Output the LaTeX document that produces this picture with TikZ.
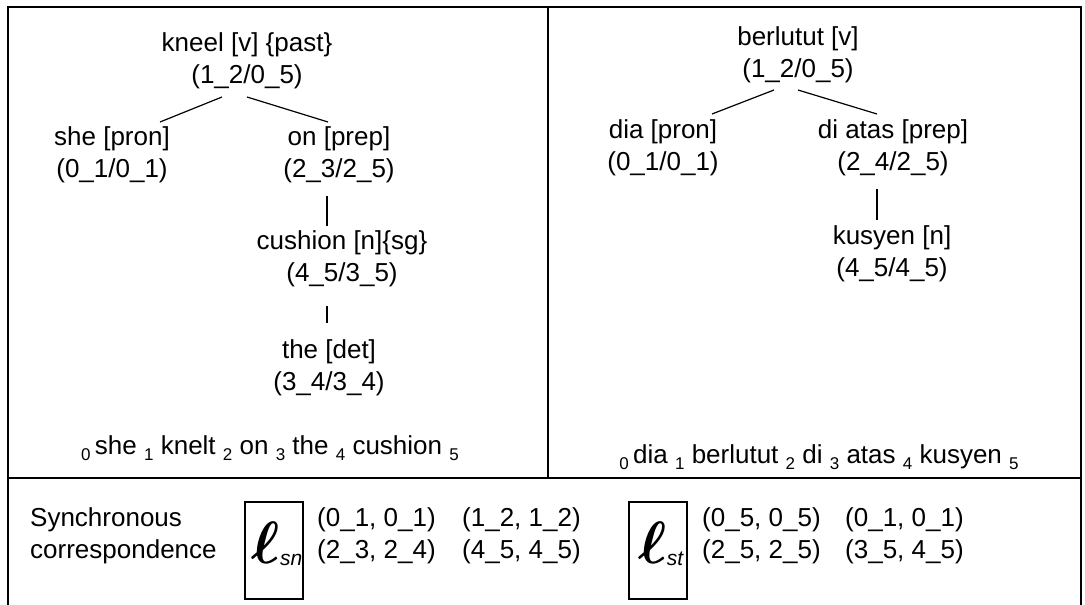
\documentclass[tikz,border=0pt]{standalone}
\usepackage{fontspec}
\setmainfont{Liberation Sans}
\usepackage{bm}
\usetikzlibrary{calc}
\newcommand\sbn[1]{\raisebox{-0.22em}{\fontsize{17}{17}\selectfont #1}}
\begin{document}
\begin{tikzpicture}[x=1pt,y=-1pt,
  every node/.style={inner sep=0pt,font=\fontsize{26}{32}\selectfont},
  tnode/.style={align=center},
  pair/.style={anchor=west},
  lbox/.style={draw,line width=1.1pt,minimum width=58pt,minimum height=97pt},
  edge/.style={line width=1.2pt},
  frame/.style={line width=1.2pt}]
\useasboundingbox (0,0) rectangle (1085,605);
% frame
\draw[frame] (8,605) -- (8,7) -- (1081,7) -- (1081,605);
\coordinate (divtop) at (548,7);
\coordinate (divbot) at (548,478);
\coordinate (hl) at (8,478);
\coordinate (hr) at (1081,478);
\draw[frame] (divtop) -- (divbot);
\draw[frame] (hl) -- (hr);
% left tree
\node[tnode] (kneel) at (247,61) {kneel [v] \{past\}\\(1\_2/0\_5)};
\node[tnode] (she) at (112,155) {she [pron]\\(0\_1/0\_1)};
\node[tnode] (on) at (339,155) {on [prep]\\(2\_3/2\_5)};
\node[tnode] (cushion) at (342,259) {cushion [n]\{sg\}\\(4\_5/3\_5)};
\node[tnode] (the) at (329,368) {the [det]\\(3\_4/3\_4)};
\node (sentL) at (270,448) {\sbn{0}\,she \sbn{1} knelt \sbn{2} on \sbn{3} the \sbn{4} cushion \sbn{5}};
\draw[edge] ($(kneel)+(-25,36)$) -- ($(she)+(48,-33)$);
\draw[edge] ($(kneel)+(0,36)$) -- ($(on)+(-11,-33)$);
\draw[edge] ($(on)+(-12,41)$) -- ($(cushion)+(-15,-33)$);
\draw[edge] ($(cushion)+(-15,47)$) -- ($(the)+(-2,-45)$);
% right tree
\node[tnode] (berlutut) at (798,55) {berlutut [v]\\(1\_2/0\_5)};
\node[tnode] (dia) at (663,148) {dia [pron]\\(0\_1/0\_1)};
\node[tnode] (diatas) at (893,148) {di atas [prep]\\(2\_4/2\_5)};
\node[tnode] (kusyen) at (892,254) {kusyen [n]\\(4\_5/4\_5)};
\node (sentR) at (819,457) {\sbn{0}\,dia \sbn{1} berlutut \sbn{2} di \sbn{3} atas \sbn{4} kusyen \sbn{5}};
\draw[edge] ($(berlutut)+(-24,35)$) -- ($(dia)+(49,-34)$);
\draw[edge] ($(berlutut)+(0,35)$) -- ($(diatas)+(-16,-34)$);
\draw[edge] ($(diatas)+(-16,41)$) -- ($(kusyen)+(-15,-34)$);
% bottom
\node[anchor=west,align=left] (sync) at (30,536) {Synchronous\\correspondence};
\node[lbox] (lsn) at (274,550.5) {};
\node (lsntxt) at ($(lsn)+(3,-7)$) {\scalebox{2.4}{$\bm{\ell}$}\raisebox{-2pt}{\fontsize{21}{21}\selectfont\itshape sn}};
\node[pair] (p1) at (317,520) {(0\_1, 0\_1)};
\node[pair] (p2) at (462,520) {(1\_2, 1\_2)};
\node[pair] (p3) at (317,552) {(2\_3, 2\_4)};
\node[pair] (p4) at (462,552) {(4\_5, 4\_5)};
\node[lbox] (lst) at (658,550.5) {};
\node (lsttxt) at ($(lst)+(3,-7)$) {\scalebox{2.4}{$\bm{\ell}$}\raisebox{-2pt}{\fontsize{21}{21}\selectfont\itshape st}};
\node[pair] (q1) at (702,520) {(0\_5, 0\_5)};
\node[pair] (q2) at (845,520) {(0\_1, 0\_1)};
\node[pair] (q3) at (702,552) {(2\_5, 2\_5)};
\node[pair] (q4) at (845,552) {(3\_5, 4\_5)};
\end{tikzpicture}
\end{document}
